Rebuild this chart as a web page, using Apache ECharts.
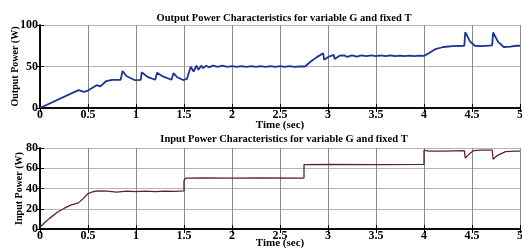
<!DOCTYPE html>
<html>
<head>
<meta charset="utf-8">
<script src="https://cdn.jsdelivr.net/npm/echarts@6/dist/echarts.min.js"></script>
<style>
  html, body { margin: 0; padding: 0; background: #fff; }
  #chart { width: 522px; height: 250px; }
</style>
</head>
<body>
<div id="chart"></div>
<script>
// output power (W) vs time (sec)
var tOut = [0, 0.4, 0.46, 0.5, 0.59, 0.63, 0.69, 0.75, 0.84, 0.86, 0.9, 0.99, 1.05, 1.06, 1.12, 1.2, 1.21, 1.22, 1.28, 1.37, 1.38, 1.39, 1.43, 1.49, 1.53, 1.57, 1.6, 1.63, 1.65, 1.68, 1.7,
  1.73, 1.76, 1.8, 1.85, 1.9, 1.95, 2.0, 2.05, 2.1, 2.15, 2.2, 2.25, 2.3, 2.35, 2.4, 2.45, 2.5, 2.55, 2.6, 2.65, 2.7, 2.76,
  2.82, 2.88, 2.95, 2.96, 3.01, 3.06, 3.07, 3.12, 3.17, 3.2, 3.25, 3.3, 3.35, 3.4, 3.45, 3.5, 3.55, 3.6, 3.65, 3.7, 3.75, 3.8, 3.85, 3.9, 3.95, 4.0,
  4.05, 4.12, 4.2, 4.3, 4.42, 4.43, 4.48, 4.53, 4.6, 4.71, 4.72, 4.77, 4.83, 4.9, 4.96, 5.0];
var pOut = [0, 21.5, 19.5, 21, 27.5, 26, 32.5, 34, 34, 44.5, 38.5, 33.5, 34, 43, 37.5, 34, 34, 42.5, 38, 34, 34, 42, 37, 33.7, 35, 49.8, 44, 51, 46, 51, 48,
  51, 49, 51, 49.5, 51, 49.5, 50.5, 49.5, 50.5, 49.5, 50.5, 49.5, 50.5, 49.5, 50.5, 49.5, 50.5, 49.5, 50.5, 49.5, 50, 50,
  56, 61, 66, 58, 62, 64, 59, 63, 63.5, 61.5, 63.5, 62, 63.5, 62.5, 63.5, 62.5, 63.5, 62.5, 63.5, 62.5, 63, 62.5, 63, 62.5, 63, 62.8,
  66, 71, 73.5, 74.5, 75, 91.5, 80, 75, 74.5, 75.5, 91, 80, 73.5, 74, 75, 75];

// input power (W) vs time (sec)
var tIn = [0, 0.05, 0.1, 0.18, 0.25, 0.32, 0.4, 0.45, 0.5, 0.55, 0.6, 0.7, 0.8, 0.9, 1.0, 1.1, 1.2, 1.3, 1.4, 1.5,
  1.5, 1.52, 1.55, 1.7, 2.0, 2.3, 2.75, 2.75, 3.0, 3.5, 4.0, 4.0, 4.05, 4.2, 4.42, 4.43, 4.47, 4.52, 4.6, 4.71, 4.72, 4.77, 4.85, 4.95, 5.0];
var pIn = [1.7, 6.5, 10.5, 16.5, 20.3, 23.5, 25.8, 30, 35, 36.8, 37.6, 37.5, 36.5, 37.5, 37, 37.5, 37, 37.5, 37.2, 37.6,
  48, 50.3, 50.3, 50.5, 50.3, 50.5, 50.3, 63.5, 63.8, 63.6, 63.8, 78, 77, 77, 77.5, 70, 74, 77.5, 78, 78, 69, 73, 76.5, 77, 77];

function pairs(t, v) {
  var out = [];
  for (var i = 0; i < t.length; i++) out.push([t[i], v[i]]);
  return out;
}

var serif = "'Liberation Serif', 'Times New Roman', serif";
var lblStyle = { color: "#000", fontFamily: serif, fontWeight: "bold", fontSize: 12 };

function xAxisBottom(grid, gap, name) {
  return {
    type: "value", gridIndex: grid, min: 0, max: 5, interval: 0.5,
    name: name, nameLocation: "middle", nameGap: gap, nameMoveOverlap: false,
    nameTextStyle: { color: "#000", fontFamily: serif, fontWeight: "bold", fontSize: 11 },
    axisLine: { show: true, lineStyle: { color: "#000", width: 1.5 } },
    axisTick: { inside: true, length: 4, lineStyle: { color: "#000" } },
    axisLabel: Object.assign({ margin: 1 }, lblStyle),
    splitLine: { show: true, lineStyle: { color: "#8a8a8a", width: 1 } }
  };
}
function xAxisTop(grid) {
  return {
    type: "value", gridIndex: grid, position: "top", min: 0, max: 5, interval: 0.5,
    axisLine: { show: true, lineStyle: { color: "#000", width: 1.5 } },
    axisTick: { inside: true, length: 4, lineStyle: { color: "#000" } },
    axisLabel: { show: false }, splitLine: { show: false }
  };
}
function yAxisLeft(grid, max, interval, name, gap) {
  return {
    type: "value", gridIndex: grid, min: 0, max: max, interval: interval,
    name: name, nameLocation: "middle", nameGap: gap, nameMoveOverlap: false,
    nameTextStyle: { color: "#000", fontFamily: serif, fontWeight: "bold", fontSize: 10 },
    axisLine: { show: true, lineStyle: { color: "#000", width: 1.5 } },
    axisTick: { inside: true, length: 4, lineStyle: { color: "#000" } },
    axisLabel: Object.assign({ margin: 2 }, lblStyle),
    splitLine: { show: true, lineStyle: { color: "#b5b5b5", width: 1 } }
  };
}
function yAxisRight(grid, max, interval) {
  return {
    type: "value", gridIndex: grid, position: "right", min: 0, max: max, interval: interval,
    axisLine: { show: true, lineStyle: { color: "#000", width: 1.5 } },
    axisTick: { inside: true, length: 4, lineStyle: { color: "#000" } },
    axisLabel: { show: false }, splitLine: { show: false }
  };
}

var myChart = echarts.init(document.getElementById("chart"));
var option = {
  animation: false,
  backgroundColor: "#fff",
  title: [
    { text: "Output Power Characteristics for variable G and fixed T", left: 279, top: 8, textAlign: "center",
      textStyle: { color: "#000", fontFamily: serif, fontWeight: "bold", fontSize: 10.5 } },
    { text: "Input Power Characteristics for variable G and fixed T", left: 279, top: 129, textAlign: "center",
      textStyle: { color: "#000", fontFamily: serif, fontWeight: "bold", fontSize: 10.5 } }
  ],
  grid: [
    { left: 40, right: 2, top: 25, height: 83, outerBoundsMode: "none" },
    { left: 40, right: 2, top: 148, height: 81, outerBoundsMode: "none" }
  ],
  xAxis: [
    xAxisBottom(0, 12, "Time (sec)"), xAxisTop(0),
    xAxisBottom(1, 9, "Time (sec)"), xAxisTop(1)
  ],
  yAxis: [
    yAxisLeft(0, 100, 50, "Output Power (W)", 20), yAxisRight(0, 100, 50),
    yAxisLeft(1, 80, 20, "Input Power (W)", 16), yAxisRight(1, 80, 20)
  ],
  series: [
    { type: "line", xAxisIndex: 0, yAxisIndex: 0, symbol: "none",
      lineStyle: { color: "#1c3494", width: 1.8 }, data: pairs(tOut, pOut) },
    { type: "line", xAxisIndex: 2, yAxisIndex: 2, symbol: "none",
      lineStyle: { color: "#5e2424", width: 1.3 }, data: pairs(tIn, pIn) }
  ]
};
myChart.setOption(option);
</script>
</body>
</html>
